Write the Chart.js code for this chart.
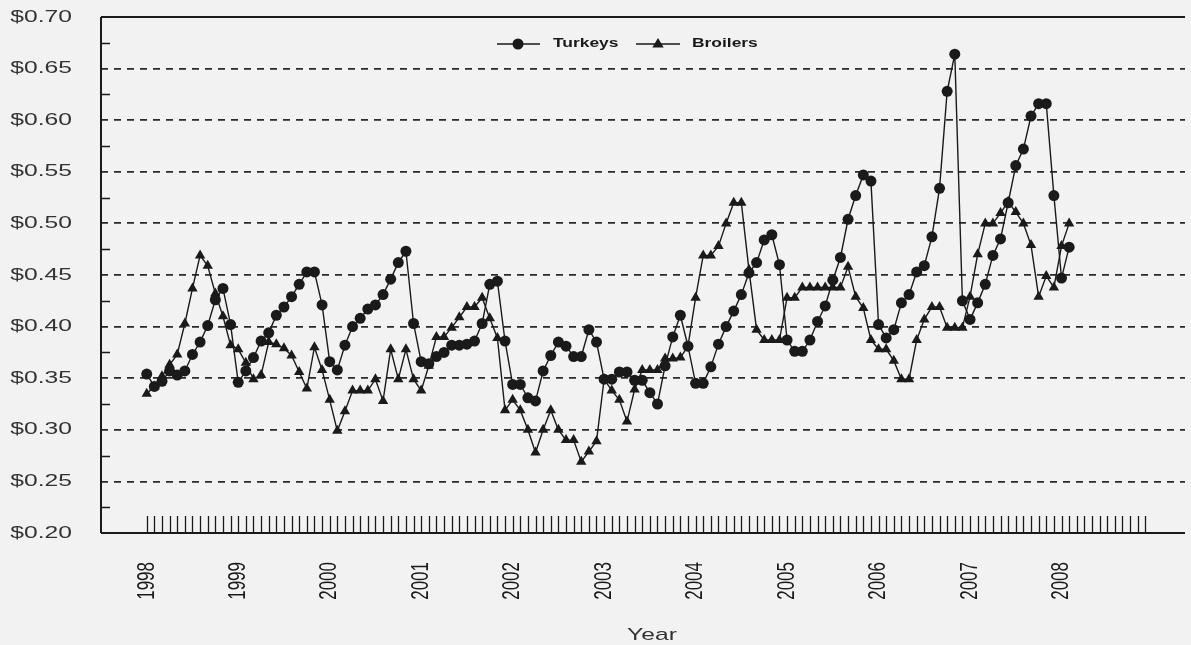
<!DOCTYPE html>
<html>
<head>
<meta charset="utf-8">
<script src="https://cdn.jsdelivr.net/npm/chart.js@4.4.1/dist/chart.umd.min.js"></script>
<style>
  html, body { margin: 0; padding: 0; background: #f2f2f2; }
  #wrap { width: 1191px; height: 645px; }
</style>
</head>
<body>
<div id="wrap"><canvas id="chart" width="1191" height="645"></canvas></div>
<script>
// Monthly wholesale prices, Jan 1998 .. Feb 2008 (month index 0 = Jan 1998)
const yearLabels = ['1998', '1999', '2000', '2001', '2002', '2003', '2004', '2005', '2006', '2007', '2008'];

const turkeys = [
  0.354, 0.342, 0.347, 0.357, 0.353, 0.357, 0.373, 0.385, 0.401, 0.426, 0.437, 0.402, // 1998
  0.346, 0.357, 0.370, 0.386, 0.394, 0.411, 0.419, 0.429, 0.441, 0.453, 0.453, 0.421, // 1999
  0.366, 0.358, 0.382, 0.400, 0.408, 0.417, 0.421, 0.431, 0.446, 0.462, 0.473, 0.403, // 2000
  0.366, 0.364, 0.371, 0.375, 0.382, 0.382, 0.383, 0.386, 0.403, 0.441, 0.444, 0.386, // 2001
  0.344, 0.344, 0.331, 0.328, 0.357, 0.372, 0.385, 0.381, 0.371, 0.371, 0.397, 0.385, // 2002
  0.349, 0.349, 0.356, 0.356, 0.348, 0.348, 0.336, 0.325, 0.362, 0.390, 0.411, 0.381, // 2003
  0.345, 0.345, 0.361, 0.383, 0.400, 0.415, 0.431, 0.452, 0.462, 0.484, 0.489, 0.460, // 2004
  0.387, 0.376, 0.376, 0.387, 0.405, 0.420, 0.445, 0.467, 0.504, 0.527, 0.547, 0.541, // 2005
  0.402, 0.389, 0.397, 0.423, 0.431, 0.453, 0.459, 0.487, 0.534, 0.628, 0.664, 0.425, // 2006
  0.407, 0.423, 0.441, 0.469, 0.485, 0.520, 0.556, 0.572, 0.604, 0.616, 0.616, 0.527, // 2007
  0.447, 0.477                                                                         // 2008
];

const broilers = [
  0.335, 0.342, 0.352, 0.363, 0.373, 0.403, 0.437, 0.469, 0.459, 0.432, 0.410, 0.382, // 1998
  0.378, 0.365, 0.349, 0.353, 0.385, 0.383, 0.379, 0.372, 0.356, 0.340, 0.380, 0.358, // 1999
  0.329, 0.299, 0.318, 0.338, 0.338, 0.338, 0.349, 0.328, 0.378, 0.349, 0.378, 0.349, // 2000
  0.338, 0.362, 0.390, 0.390, 0.399, 0.409, 0.419, 0.419, 0.428, 0.408, 0.389, 0.319, // 2001
  0.329, 0.319, 0.300, 0.278, 0.300, 0.319, 0.300, 0.290, 0.290, 0.269, 0.279, 0.289, // 2002
  0.349, 0.338, 0.329, 0.308, 0.339, 0.358, 0.358, 0.358, 0.369, 0.369, 0.370, 0.381, // 2003
  0.428, 0.469, 0.469, 0.478, 0.500, 0.520, 0.520, 0.455, 0.397, 0.387, 0.387, 0.387, // 2004
  0.428, 0.428, 0.438, 0.438, 0.438, 0.438, 0.438, 0.438, 0.458, 0.429, 0.418, 0.387, // 2005
  0.378, 0.378, 0.367, 0.349, 0.349, 0.387, 0.407, 0.419, 0.419, 0.399, 0.399, 0.399, // 2006
  0.429, 0.470, 0.500, 0.500, 0.510, 0.521, 0.511, 0.500, 0.479, 0.429, 0.449, 0.438, // 2007
  0.478, 0.500                                                                         // 2008
];

const monthTicks = 132; // Jan 1998 .. Dec 2008
const INK = '#1a1a1a';
const FONT = "'Liberation Sans', Arial, sans-serif";
const STRETCH = 1.45; // the original raster is stretched horizontally

// draw text stretched horizontally like the scanned original
function stretchText(ctx, text, x, y, font, align, rotate, color) {
  ctx.save();
  ctx.translate(x, y);
  ctx.scale(STRETCH, 1);
  if (rotate) ctx.rotate(-Math.PI / 2);
  ctx.font = font;
  ctx.fillStyle = color || INK;
  ctx.textAlign = align;
  ctx.textBaseline = 'middle';
  ctx.fillText(text, 0, 0);
  ctx.restore();
}

function triangle(ctx, x, y, r) {
  ctx.beginPath();
  ctx.moveTo(x, y - r);
  ctx.lineTo(x + r * 0.95, y + r * 0.6);
  ctx.lineTo(x - r * 0.95, y + r * 0.6);
  ctx.closePath();
  ctx.fill();
}

const frame = {
  id: 'frame',
  beforeDraw(chart) {
    const ctx = chart.ctx;
    ctx.save();
    ctx.fillStyle = '#f2f2f2';
    ctx.fillRect(0, 0, chart.width, chart.height);
    ctx.restore();
  },
  afterDraw(chart) {
    const ctx = chart.ctx;
    const { left, right, top, bottom } = chart.chartArea;
    const xs = chart.scales.x, ys = chart.scales.y;

    ctx.save();
    ctx.strokeStyle = INK;
    ctx.lineWidth = 2;
    ctx.beginPath();
    ctx.moveTo(left, top); ctx.lineTo(right, top);
    ctx.moveTo(left, top); ctx.lineTo(left, bottom);
    ctx.moveTo(left, bottom); ctx.lineTo(right, bottom);
    ctx.stroke();

    // minor ticks on the y axis
    ctx.lineWidth = 1.5;
    ctx.beginPath();
    for (let v = 0.225; v < 0.7; v += 0.05) {
      const y = Math.round(ys.getPixelForValue(v)) + 0.5;
      ctx.moveTo(left, y); ctx.lineTo(left + 9, y);
    }
    ctx.stroke();

    // monthly ticks on the x axis
    ctx.lineWidth = 1.3;
    ctx.beginPath();
    for (let i = 0; i < monthTicks; i++) {
      const x = Math.round(xs.getPixelForValue(i)) + 0.5;
      ctx.moveTo(x, bottom); ctx.lineTo(x, bottom - 17);
    }
    ctx.stroke();
    ctx.restore();

    // y labels
    for (let k = 0; k <= 10; k++) {
      const v = 0.2 + k * 0.05;
      stretchText(ctx, '$' + v.toFixed(2), 72, ys.getPixelForValue(v), '17px ' + FONT, 'right', false, '#333');
    }
    // year labels, rotated
    yearLabels.forEach((lab, k) => {
      stretchText(ctx, lab, xs.getPixelForValue(k * 12), bottom + 29, '17px ' + FONT, 'right', true);
    });
    // axis title
    stretchText(ctx, 'Year', 652, 635, '17px ' + FONT, 'center', false, '#333');

    // legend
    ctx.save();
    ctx.strokeStyle = INK;
    ctx.fillStyle = INK;
    ctx.lineWidth = 1.5;
    const ly = 44;
    ctx.beginPath();
    ctx.moveTo(497, ly); ctx.lineTo(540, ly);
    ctx.moveTo(636, ly); ctx.lineTo(680, ly);
    ctx.stroke();
    ctx.beginPath();
    ctx.arc(518, ly, 5.5, 0, Math.PI * 2);
    ctx.fill();
    triangle(ctx, 658, ly, 6);
    ctx.restore();
    stretchText(ctx, 'Turkeys', 553, ly, 'bold 12px ' + FONT, 'left', false);
    stretchText(ctx, 'Broilers', 692, ly, 'bold 12px ' + FONT, 'left', false);
  }
};

const toPoints = arr => arr.map((v, i) => ({ x: i, y: v }));

new Chart(document.getElementById('chart'), {
  type: 'line',
  data: {
    datasets: [
      {
        label: 'Turkeys',
        data: toPoints(turkeys),
        borderColor: INK,
        backgroundColor: INK,
        borderWidth: 1.4,
        pointStyle: 'circle',
        pointRadius: 5.5,
        pointBorderWidth: 0,
        tension: 0
      },
      {
        label: 'Broilers',
        data: toPoints(broilers),
        borderColor: INK,
        backgroundColor: INK,
        borderWidth: 1.4,
        pointStyle: 'triangle',
        pointRadius: 6,
        pointBorderWidth: 0,
        tension: 0
      }
    ]
  },
  options: {
    responsive: false,
    animation: false,
    layout: { padding: { left: 101, top: 17, right: 0, bottom: 112 } },
    plugins: { legend: { display: false }, tooltip: { enabled: false } },
    scales: {
      x: {
        type: 'linear',
        min: -6,
        max: 136.2,
        ticks: { display: false },
        grid: { display: false, drawTicks: false },
        border: { display: false }
      },
      y: {
        min: 0.2,
        max: 0.7,
        ticks: { display: false, stepSize: 0.05 },
        grid: {
          drawTicks: false,
          lineWidth: 1.8,
          color: c => (c.tick && (c.tick.value <= 0.2001 || c.tick.value >= 0.6999)) ? 'transparent' : '#2a2a2a'
        },
        border: { display: false, dash: [7, 6] }
      }
    }
  },
  plugins: [frame]
});
</script>
</body>
</html>
